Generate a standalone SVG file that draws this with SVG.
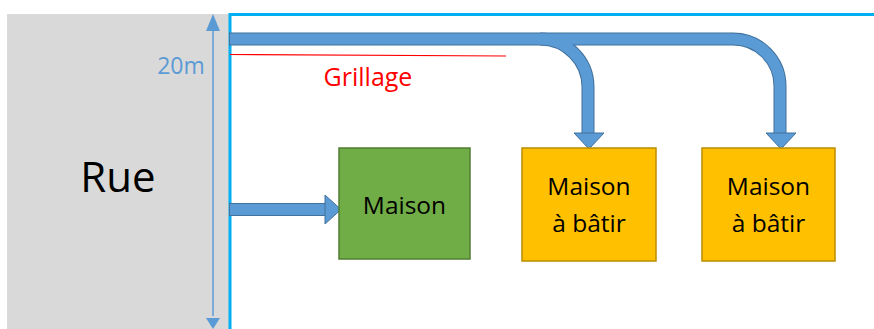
<svg xmlns="http://www.w3.org/2000/svg" width="874" height="329" viewBox="0 0 874 329">
<style>
.t{font-family:"Open Sans","Liberation Sans",sans-serif;fill:#000;text-anchor:middle}
.shaftO{fill:none;stroke:#41719c;stroke-width:13}
.shaftI{fill:none;stroke:#5b9bd5;stroke-width:11}
.head{fill:#5b9bd5;stroke:#41719c;stroke-width:1}
.box{stroke-width:1.5}
</style>
<rect width="874" height="329" fill="#fff"/>
<g id="rue">
<rect x="7" y="14" width="222" height="315" fill="#d9d9d9"/>
<text class="t" x="118" y="192" font-size="42">Rue</text>
</g>
<g id="dimension">
<line x1="213" y1="28" x2="213" y2="316" stroke="#5b9bd5" stroke-width="1.5"/>
<polygon points="213,14 206,31 220,31" fill="#5b9bd5"/>
<polygon points="213,329 206,318 220,318" fill="#5b9bd5"/>
<text x="181" y="74" font-family="Open Sans,Liberation Sans,sans-serif" font-size="23" fill="#5b9bd5" text-anchor="middle">20m</text>
</g>
<g id="terrain">
<polyline points="230,329 230,14.5 874,14.5" fill="none" stroke="#00b0f0" stroke-width="3"/>
</g>
<g id="grillage">
<line x1="230" y1="54.5" x2="506" y2="56" stroke="#ff0000" stroke-width="1.2"/>
<text x="368" y="86" font-family="Open Sans,Liberation Sans,sans-serif" font-size="25" fill="#ff0000" text-anchor="middle">Grillage</text>
</g>
<g id="connectors">
<path class="shaftO" d="M229,39 H733 A47,47 0 0 1 780,86 V134"/>
<path class="shaftO" d="M540,39 A48,48 0 0 1 588,87 V134"/>
<path class="shaftO" d="M229,209.5 H327"/>
<path class="shaftI" d="M230,39 H733 A47,47 0 0 1 780,86 V135"/>
<path class="shaftI" d="M540,39 A48,48 0 0 1 588,87 V135"/>
<path class="shaftI" d="M230,209.5 H327"/>
<polygon class="head" points="574,133 604,133 589,149"/>
<polygon class="head" points="766,133 796,133 781,149"/>
<polygon class="head" points="325,195 325,224 341,209.5"/>
</g>
<g id="maison">
<rect class="box" x="339" y="148" width="131" height="111" fill="#70ad47" stroke="#507e32"/>
<text class="t" x="404.5" y="214" font-size="24.5">Maison</text>
</g>
<g id="maison-a-batir-1">
<rect class="box" x="522" y="148" width="134" height="113" fill="#ffc000" stroke="#bc8c00"/>
<text class="t" x="589" y="195" font-size="24.5">Maison</text>
<text class="t" x="589" y="232" font-size="24.5">à bâtir</text>
</g>
<g id="maison-a-batir-2">
<rect class="box" x="702" y="148" width="133" height="113" fill="#ffc000" stroke="#bc8c00"/>
<text class="t" x="768.5" y="195" font-size="24.5">Maison</text>
<text class="t" x="768.5" y="232" font-size="24.5">à bâtir</text>
</g>
</svg>
